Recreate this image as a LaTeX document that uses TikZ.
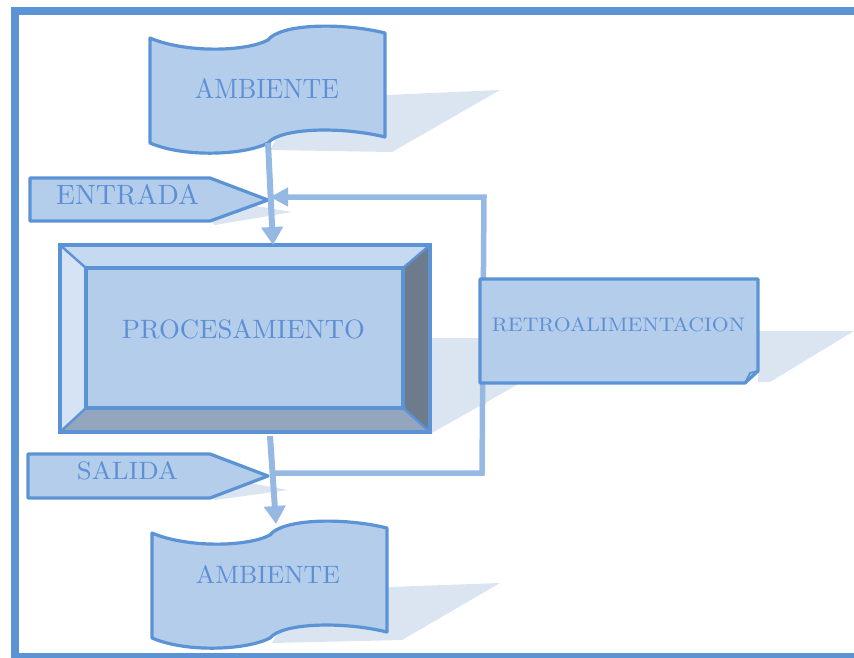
\documentclass[tikz,border=0pt]{standalone}
\usetikzlibrary{arrows.meta}
\definecolor{fillb}{RGB}{180,205,235}
\definecolor{edgeb}{RGB}{91,147,213}
\definecolor{textb}{RGB}{92,143,214}
\definecolor{arrowb}{RGB}{150,185,228}
\definecolor{shadowb}{RGB}{219,229,241}
\definecolor{beveltop}{RGB}{197,217,241}
\definecolor{bevelleft}{RGB}{214,227,245}
\definecolor{bevelright}{RGB}{109,123,141}
\definecolor{bevelbot}{RGB}{147,166,189}
\newcommand\lbl[3]{\resizebox{#1pt}{#2pt}{#3}}
\newcommand\tapepath{(150,38) .. controls (185,53) and (245,52) .. (268,40) .. controls (280,24) and (340,22) .. (385,33) -- (385,137) .. controls (340,126) and (280,128) .. (268,143) .. controls (245,155) and (185,158) .. (150,143) -- cycle}
\begin{document}
\begin{tikzpicture}[x=1pt,y=-1pt,
  shapeb/.style={fill=fillb,draw=edgeb,line width=3.2pt,line join=round},
  shadowfill/.style={fill=shadowb},
  flow/.style={draw=arrowb,line width=6pt,-{Triangle[width=21pt,length=18pt]}},
  fback/.style={draw=arrowb,line width=5.5pt},
  txt/.style={text=textb,inner sep=0pt}]
\useasboundingbox (0,0) rectangle (854,657);
% frame
\begin{scope}
\clip (0,0) rectangle (854,657);
\draw[edgeb,line width=8pt] (15,11) rectangle (900,657);
\end{scope}
% shadows
\fill[shadowfill] (300,95) -- (387,95) -- (500,90) -- (392,152) -- (270,150) -- cycle;
\fill[shadowfill] (302,590) -- (389,587) -- (500,583) -- (402,640) -- (272,643) -- cycle;
\fill[shadowfill] (210,221) -- (250,205) -- (292,212) -- (215,225) -- cycle;
\fill[shadowfill] (210,498) -- (250,483) -- (288,490) -- (215,500) -- cycle;
\fill[shadowfill] (430,338) -- (600,338) -- (430,434) -- cycle;
\fill[shadowfill] (758,331) -- (854,331) -- (770,382) -- (758,382) -- cycle;
% feedback loop
\coordinate (fbS) at (275,473);
\coordinate (fbR1) at (482,473);
\coordinate (fbR2) at (484,197);
\coordinate (fbE) at (270,197);
\draw[fback,-{Triangle[width=18pt,length=18pt]}] (fbS) -- (fbR1) -- (fbR2) -- (fbE);
% retroalimentacion box
\draw[shapeb] (480,279) -- (758,279) -- (758,371) -- (745,383) -- (480,383) -- cycle;
\draw[edgeb,line width=1.8pt] (758,371) -- (750,373) -- (745,383);
\node[txt] (retro) at (618.5,325) {\lbl{253}{14}{RETROALIMENTACION}};
% procesamiento bevel box
\fill[beveltop] (60,245) -- (430,245) -- (403,268) -- (86,268) -- cycle;
\fill[bevelleft] (60,245) -- (86,268) -- (86,408) -- (60,432) -- cycle;
\fill[bevelright] (430,245) -- (430,432) -- (403,408) -- (403,268) -- cycle;
\fill[bevelbot] (60,432) -- (430,432) -- (403,408) -- (86,408) -- cycle;
\draw[shapeb] (86,268) rectangle (403,408);
\draw[edgeb,line width=3.2pt] (60,245) rectangle (430,432);
\draw[edgeb,line width=2.4pt] (60,245) -- (86,268) (430,245) -- (403,268) (60,432) -- (86,408) (430,432) -- (403,408);
\node[txt] (proc) at (243.5,329.5) {\lbl{243}{19}{PROCESAMIENTO}};
% ambiente tapes
\draw[shapeb] \tapepath;
\node[txt] (amb1) at (267,88) {\lbl{144}{20}{AMBIENTE}};
\begin{scope}[shift={(2,495)}]
\draw[shapeb] \tapepath;
\end{scope}
\node[txt] (amb2) at (268,574) {\lbl{144}{18}{AMBIENTE}};
% tags
\draw[shapeb] (30,178) -- (210,178) -- (268,200) -- (210,221) -- (30,221) -- cycle;
\node[txt] (entrada) at (127.5,194.5) {\lbl{143}{20}{ENTRADA}};
\draw[shapeb] (28,454) -- (210,454) -- (268,476) -- (210,498) -- (28,498) -- cycle;
\node[txt] (salida) at (127.5,471) {\lbl{101}{18}{SALIDA}};
% flow arrows
\coordinate (a1out) at (268,143);
\coordinate (pin) at (273,245);
\coordinate (pout) at (270,436);
\coordinate (a2in) at (276,524);
\draw[flow] (a1out) -- (pin);
\draw[flow] (pout) -- (a2in);
\end{tikzpicture}
\end{document}
